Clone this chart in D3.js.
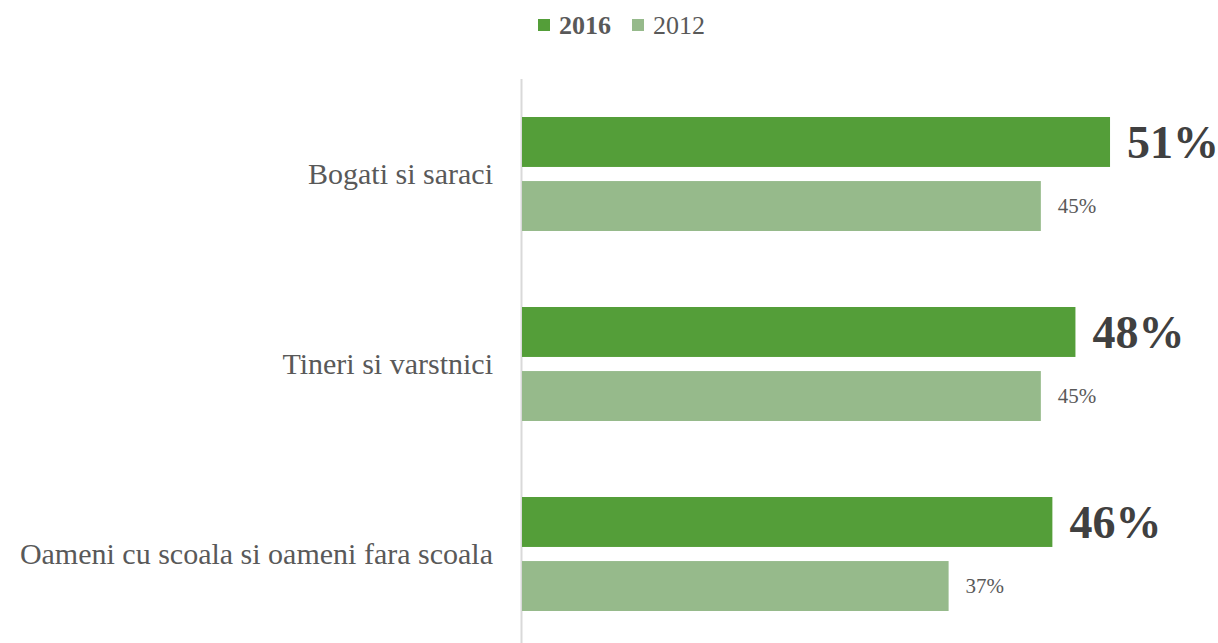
<!DOCTYPE html>
<html>
<head>
<meta charset="utf-8">
<script src="https://cdn.jsdelivr.net/npm/d3@7"></script>
<style>
  html, body { margin: 0; padding: 0; background: #fff; }
  svg { display: block; }
</style>
</head>
<body>
<svg id="chart" width="1218" height="643"></svg>
<script>
const categories = ["Bogati si saraci", "Tineri si varstnici", "Oameni cu scoala si oameni fara scoala"];
const seriesNames = ["2016", "2012"];
const values2016 = [51, 48, 46];
const values2012 = [45, 45, 37];
const colors = ["#549e39", "#96ba8b"];

const svg = d3.select("#chart");
const font = "'Liberation Serif', 'DejaVu Serif', serif";

const x = d3.scaleLinear().domain([0, 100]).range([522, 522 + 1153]);
const y = d3.scaleBand().domain(categories).range([79, 649]).paddingInner(0.4).paddingOuter(0.2);
const ySub = d3.scaleBand().domain(seriesNames).range([0, y.bandwidth()]).paddingInner(0.22).paddingOuter(0);

const data = categories.map((c, i) => ({ cat: c, vals: [values2016[i], values2012[i]] }));

// axis line
svg.append("line")
  .attr("x1", 521.5).attr("x2", 521.5)
  .attr("y1", 79).attr("y2", 643)
  .attr("stroke", "#d9d9d9").attr("stroke-width", 2);

const groups = svg.selectAll("g.grp").data(data).enter().append("g")
  .attr("class", "grp")
  .attr("transform", d => `translate(0,${y(d.cat)})`);

groups.selectAll("rect").data(d => d.vals.map((v, j) => ({ v, s: seriesNames[j], j })))
  .enter().append("rect")
  .attr("x", x(0))
  .attr("y", d => ySub(d.s))
  .attr("width", d => x(d.v) - x(0))
  .attr("height", ySub.bandwidth())
  .attr("fill", d => colors[d.j]);

groups.selectAll("text.val").data(d => d.vals.map((v, j) => ({ v, s: seriesNames[j], j })))
  .enter().append("text")
  .attr("class", "val")
  .attr("x", d => x(d.v) + 17)
  .attr("y", d => ySub(d.s) + ySub.bandwidth() / 2)
  .attr("dy", "0.35em")
  .attr("font-family", font)
  .attr("font-size", d => d.j === 0 ? 46 : 21)
  .attr("font-weight", d => d.j === 0 ? "bold" : "normal")
  .attr("fill", d => d.j === 0 ? "#404040" : "#595959")
  .text(d => d.v + "%");

// category labels
svg.selectAll("text.cat").data(categories).enter().append("text")
  .attr("class", "cat")
  .attr("x", 493)
  .attr("y", d => y(d) + y.bandwidth() / 2)
  .attr("dy", "0.33em")
  .attr("text-anchor", "end")
  .attr("font-family", font)
  .attr("font-size", 30)
  .attr("fill", "#595959")
  .text(d => d);

// legend
const legend = svg.append("g");
const legendX = [538, 632];
seriesNames.forEach((s, i) => {
  legend.append("rect")
    .attr("x", legendX[i]).attr("y", 19)
    .attr("width", 12).attr("height", 12)
    .attr("fill", colors[i]);
  legend.append("text")
    .attr("x", legendX[i] + 21).attr("y", 34)
    .attr("font-family", font)
    .attr("font-size", 26)
    .attr("font-weight", i === 0 ? "bold" : "normal")
    .attr("fill", "#595959")
    .text(s);
});
</script>
</body>
</html>
